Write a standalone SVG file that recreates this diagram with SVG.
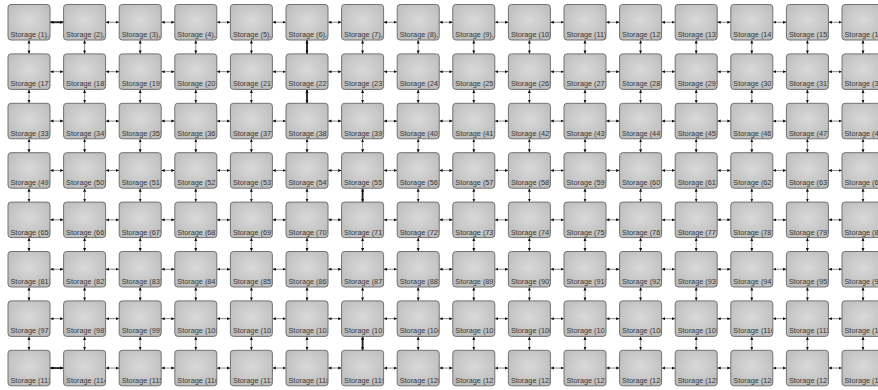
<svg xmlns="http://www.w3.org/2000/svg" width="878" height="390" viewBox="0 0 878 390">
<defs>
<radialGradient id="g" cx="0.5" cy="0.45" r="0.65">
<stop offset="0" stop-color="#d9d9d9"/>
<stop offset="1" stop-color="#bcbcbc"/>
</radialGradient>
<clipPath id="c"><rect x="0" y="0" width="41.5" height="35.5"/></clipPath>
<marker id="a" viewBox="0 0 4 4" refX="4" refY="2" markerWidth="3.5" markerHeight="3.5" markerUnits="userSpaceOnUse" orient="auto-start-reverse">
<path d="M0,0.3 L4,2 L0,3.7 z" fill="#111"/>
</marker>
</defs>
<style>
.box{fill:url(#g);stroke:#727272;stroke-width:1}
.lbl{font-family:"Liberation Sans",Arial,sans-serif;font-size:7.3px;fill:#383838;clip-path:url(#c)}
.c line{stroke:#8a8a8a;stroke-width:1;marker-start:url(#a);marker-end:url(#a)}
.c line.t{stroke:#1a1a1a;stroke-width:1.8}
</style>
<rect width="878" height="390" fill="#ffffff"/>
<g id="connectors" class="c">
<g transform="translate(0,22.25)"><line x1="50" x2="63.6" class="t"/><line x1="105.6" x2="119.2"/><line x1="161.2" x2="174.8"/><line x1="216.8" x2="230.4"/><line x1="272.4" x2="286"/><line x1="328" x2="341.6"/><line x1="383.6" x2="397.2"/><line x1="439.2" x2="452.8"/><line x1="494.8" x2="508.4"/><line x1="550.4" x2="564"/><line x1="606" x2="619.6"/><line x1="661.6" x2="675.2"/><line x1="717.2" x2="730.8"/><line x1="772.8" x2="786.4"/><line x1="828.4" x2="842"/></g>
<g transform="translate(0,71.65)"><line x1="50" x2="63.6"/><line x1="105.6" x2="119.2"/><line x1="161.2" x2="174.8"/><line x1="216.8" x2="230.4"/><line x1="272.4" x2="286"/><line x1="328" x2="341.6"/><line x1="383.6" x2="397.2"/><line x1="439.2" x2="452.8"/><line x1="494.8" x2="508.4"/><line x1="550.4" x2="564"/><line x1="606" x2="619.6"/><line x1="661.6" x2="675.2"/><line x1="717.2" x2="730.8"/><line x1="772.8" x2="786.4"/><line x1="828.4" x2="842"/></g>
<g transform="translate(0,121.05)"><line x1="50" x2="63.6"/><line x1="105.6" x2="119.2"/><line x1="161.2" x2="174.8"/><line x1="216.8" x2="230.4"/><line x1="272.4" x2="286"/><line x1="328" x2="341.6"/><line x1="383.6" x2="397.2"/><line x1="439.2" x2="452.8"/><line x1="494.8" x2="508.4"/><line x1="550.4" x2="564"/><line x1="606" x2="619.6"/><line x1="661.6" x2="675.2"/><line x1="717.2" x2="730.8"/><line x1="772.8" x2="786.4"/><line x1="828.4" x2="842"/></g>
<g transform="translate(0,170.45)"><line x1="50" x2="63.6"/><line x1="105.6" x2="119.2"/><line x1="161.2" x2="174.8"/><line x1="216.8" x2="230.4"/><line x1="272.4" x2="286"/><line x1="328" x2="341.6"/><line x1="383.6" x2="397.2"/><line x1="439.2" x2="452.8"/><line x1="494.8" x2="508.4"/><line x1="550.4" x2="564"/><line x1="606" x2="619.6"/><line x1="661.6" x2="675.2"/><line x1="717.2" x2="730.8"/><line x1="772.8" x2="786.4"/><line x1="828.4" x2="842"/></g>
<g transform="translate(0,219.85)"><line x1="50" x2="63.6"/><line x1="105.6" x2="119.2"/><line x1="161.2" x2="174.8"/><line x1="216.8" x2="230.4"/><line x1="272.4" x2="286"/><line x1="328" x2="341.6"/><line x1="383.6" x2="397.2"/><line x1="439.2" x2="452.8"/><line x1="494.8" x2="508.4"/><line x1="550.4" x2="564"/><line x1="606" x2="619.6"/><line x1="661.6" x2="675.2"/><line x1="717.2" x2="730.8"/><line x1="772.8" x2="786.4"/><line x1="828.4" x2="842"/></g>
<g transform="translate(0,269.25)"><line x1="50" x2="63.6"/><line x1="105.6" x2="119.2"/><line x1="161.2" x2="174.8"/><line x1="216.8" x2="230.4"/><line x1="272.4" x2="286"/><line x1="328" x2="341.6"/><line x1="383.6" x2="397.2"/><line x1="439.2" x2="452.8"/><line x1="494.8" x2="508.4"/><line x1="550.4" x2="564"/><line x1="606" x2="619.6"/><line x1="661.6" x2="675.2"/><line x1="717.2" x2="730.8"/><line x1="772.8" x2="786.4"/><line x1="828.4" x2="842"/></g>
<g transform="translate(0,318.65)"><line x1="50" x2="63.6"/><line x1="105.6" x2="119.2"/><line x1="161.2" x2="174.8"/><line x1="216.8" x2="230.4"/><line x1="272.4" x2="286"/><line x1="328" x2="341.6"/><line x1="383.6" x2="397.2"/><line x1="439.2" x2="452.8"/><line x1="494.8" x2="508.4"/><line x1="550.4" x2="564"/><line x1="606" x2="619.6"/><line x1="661.6" x2="675.2"/><line x1="717.2" x2="730.8"/><line x1="772.8" x2="786.4"/><line x1="828.4" x2="842"/></g>
<g transform="translate(0,368.05)"><line x1="50" x2="63.6" class="t"/><line x1="105.6" x2="119.2"/><line x1="161.2" x2="174.8"/><line x1="216.8" x2="230.4"/><line x1="272.4" x2="286"/><line x1="328" x2="341.6"/><line x1="383.6" x2="397.2"/><line x1="439.2" x2="452.8"/><line x1="494.8" x2="508.4"/><line x1="550.4" x2="564"/><line x1="606" x2="619.6"/><line x1="661.6" x2="675.2"/><line x1="717.2" x2="730.8"/><line x1="772.8" x2="786.4"/><line x1="828.4" x2="842"/></g>
<g transform="translate(29,0)"><line y1="40" y2="53.9"/><line y1="89.4" y2="103.3"/><line y1="138.8" y2="152.7"/><line y1="188.2" y2="202.1"/><line y1="237.6" y2="251.5"/><line y1="287" y2="300.9"/><line y1="336.4" y2="350.3"/></g>
<g transform="translate(84.6,0)"><line y1="40" y2="53.9"/><line y1="89.4" y2="103.3"/><line y1="138.8" y2="152.7"/><line y1="188.2" y2="202.1"/><line y1="237.6" y2="251.5"/><line y1="287" y2="300.9"/><line y1="336.4" y2="350.3"/></g>
<g transform="translate(140.2,0)"><line y1="40" y2="53.9"/><line y1="89.4" y2="103.3"/><line y1="138.8" y2="152.7"/><line y1="188.2" y2="202.1"/><line y1="237.6" y2="251.5"/><line y1="287" y2="300.9"/><line y1="336.4" y2="350.3"/></g>
<g transform="translate(195.8,0)"><line y1="40" y2="53.9"/><line y1="89.4" y2="103.3"/><line y1="138.8" y2="152.7"/><line y1="188.2" y2="202.1"/><line y1="237.6" y2="251.5"/><line y1="287" y2="300.9"/><line y1="336.4" y2="350.3"/></g>
<g transform="translate(251.4,0)"><line y1="40" y2="53.9"/><line y1="89.4" y2="103.3"/><line y1="138.8" y2="152.7"/><line y1="188.2" y2="202.1"/><line y1="237.6" y2="251.5"/><line y1="287" y2="300.9"/><line y1="336.4" y2="350.3"/></g>
<g transform="translate(307,0)"><line y1="40" y2="53.9" class="t"/><line y1="89.4" y2="103.3" class="t"/><line y1="138.8" y2="152.7"/><line y1="188.2" y2="202.1"/><line y1="237.6" y2="251.5"/><line y1="287" y2="300.9"/><line y1="336.4" y2="350.3"/></g>
<g transform="translate(362.6,0)"><line y1="40" y2="53.9"/><line y1="89.4" y2="103.3"/><line y1="138.8" y2="152.7"/><line y1="188.2" y2="202.1" class="t"/><line y1="237.6" y2="251.5"/><line y1="287" y2="300.9"/><line y1="336.4" y2="350.3" class="t"/></g>
<g transform="translate(418.2,0)"><line y1="40" y2="53.9"/><line y1="89.4" y2="103.3"/><line y1="138.8" y2="152.7"/><line y1="188.2" y2="202.1"/><line y1="237.6" y2="251.5"/><line y1="287" y2="300.9"/><line y1="336.4" y2="350.3"/></g>
<g transform="translate(473.8,0)"><line y1="40" y2="53.9"/><line y1="89.4" y2="103.3"/><line y1="138.8" y2="152.7"/><line y1="188.2" y2="202.1"/><line y1="237.6" y2="251.5"/><line y1="287" y2="300.9"/><line y1="336.4" y2="350.3"/></g>
<g transform="translate(529.4,0)"><line y1="40" y2="53.9"/><line y1="89.4" y2="103.3"/><line y1="138.8" y2="152.7"/><line y1="188.2" y2="202.1"/><line y1="237.6" y2="251.5"/><line y1="287" y2="300.9"/><line y1="336.4" y2="350.3"/></g>
<g transform="translate(585,0)"><line y1="40" y2="53.9"/><line y1="89.4" y2="103.3"/><line y1="138.8" y2="152.7"/><line y1="188.2" y2="202.1"/><line y1="237.6" y2="251.5"/><line y1="287" y2="300.9"/><line y1="336.4" y2="350.3"/></g>
<g transform="translate(640.6,0)"><line y1="40" y2="53.9"/><line y1="89.4" y2="103.3"/><line y1="138.8" y2="152.7"/><line y1="188.2" y2="202.1"/><line y1="237.6" y2="251.5"/><line y1="287" y2="300.9"/><line y1="336.4" y2="350.3"/></g>
<g transform="translate(696.2,0)"><line y1="40" y2="53.9"/><line y1="89.4" y2="103.3"/><line y1="138.8" y2="152.7"/><line y1="188.2" y2="202.1"/><line y1="237.6" y2="251.5"/><line y1="287" y2="300.9"/><line y1="336.4" y2="350.3"/></g>
<g transform="translate(751.8,0)"><line y1="40" y2="53.9"/><line y1="89.4" y2="103.3"/><line y1="138.8" y2="152.7"/><line y1="188.2" y2="202.1"/><line y1="237.6" y2="251.5"/><line y1="287" y2="300.9"/><line y1="336.4" y2="350.3"/></g>
<g transform="translate(807.4,0)"><line y1="40" y2="53.9"/><line y1="89.4" y2="103.3"/><line y1="138.8" y2="152.7"/><line y1="188.2" y2="202.1"/><line y1="237.6" y2="251.5"/><line y1="287" y2="300.9"/><line y1="336.4" y2="350.3"/></g>
<g transform="translate(863,0)"><line y1="40" y2="53.9"/><line y1="89.4" y2="103.3"/><line y1="138.8" y2="152.7"/><line y1="188.2" y2="202.1"/><line y1="237.6" y2="251.5"/><line y1="287" y2="300.9"/><line y1="336.4" y2="350.3"/></g>
</g>
<g id="nodes">
<g id="n1" transform="translate(8,4.5)"><rect class="box" width="42" height="35.5" rx="3"/><text class="lbl" x="2.5" y="32.5">Storage (1),</text></g>
<g id="n2" transform="translate(63.6,4.5)"><rect class="box" width="42" height="35.5" rx="3"/><text class="lbl" x="2.5" y="32.5">Storage (2),</text></g>
<g id="n3" transform="translate(119.2,4.5)"><rect class="box" width="42" height="35.5" rx="3"/><text class="lbl" x="2.5" y="32.5">Storage (3),</text></g>
<g id="n4" transform="translate(174.8,4.5)"><rect class="box" width="42" height="35.5" rx="3"/><text class="lbl" x="2.5" y="32.5">Storage (4),</text></g>
<g id="n5" transform="translate(230.4,4.5)"><rect class="box" width="42" height="35.5" rx="3"/><text class="lbl" x="2.5" y="32.5">Storage (5),</text></g>
<g id="n6" transform="translate(286,4.5)"><rect class="box" width="42" height="35.5" rx="3"/><text class="lbl" x="2.5" y="32.5">Storage (6),</text></g>
<g id="n7" transform="translate(341.6,4.5)"><rect class="box" width="42" height="35.5" rx="3"/><text class="lbl" x="2.5" y="32.5">Storage (7),</text></g>
<g id="n8" transform="translate(397.2,4.5)"><rect class="box" width="42" height="35.5" rx="3"/><text class="lbl" x="2.5" y="32.5">Storage (8),</text></g>
<g id="n9" transform="translate(452.8,4.5)"><rect class="box" width="42" height="35.5" rx="3"/><text class="lbl" x="2.5" y="32.5">Storage (9),</text></g>
<g id="n10" transform="translate(508.4,4.5)"><rect class="box" width="42" height="35.5" rx="3"/><text class="lbl" x="2.5" y="32.5">Storage (10)</text></g>
<g id="n11" transform="translate(564,4.5)"><rect class="box" width="42" height="35.5" rx="3"/><text class="lbl" x="2.5" y="32.5">Storage (11)</text></g>
<g id="n12" transform="translate(619.6,4.5)"><rect class="box" width="42" height="35.5" rx="3"/><text class="lbl" x="2.5" y="32.5">Storage (12)</text></g>
<g id="n13" transform="translate(675.2,4.5)"><rect class="box" width="42" height="35.5" rx="3"/><text class="lbl" x="2.5" y="32.5">Storage (13)</text></g>
<g id="n14" transform="translate(730.8,4.5)"><rect class="box" width="42" height="35.5" rx="3"/><text class="lbl" x="2.5" y="32.5">Storage (14)</text></g>
<g id="n15" transform="translate(786.4,4.5)"><rect class="box" width="42" height="35.5" rx="3"/><text class="lbl" x="2.5" y="32.5">Storage (15)</text></g>
<g id="n16" transform="translate(842,4.5)"><rect class="box" width="42" height="35.5" rx="3"/><text class="lbl" x="2.5" y="32.5">Storage (16)</text></g>
<g id="n17" transform="translate(8,53.9)"><rect class="box" width="42" height="35.5" rx="3"/><text class="lbl" x="2.5" y="32.5">Storage (17)</text></g>
<g id="n18" transform="translate(63.6,53.9)"><rect class="box" width="42" height="35.5" rx="3"/><text class="lbl" x="2.5" y="32.5">Storage (18)</text></g>
<g id="n19" transform="translate(119.2,53.9)"><rect class="box" width="42" height="35.5" rx="3"/><text class="lbl" x="2.5" y="32.5">Storage (19)</text></g>
<g id="n20" transform="translate(174.8,53.9)"><rect class="box" width="42" height="35.5" rx="3"/><text class="lbl" x="2.5" y="32.5">Storage (20)</text></g>
<g id="n21" transform="translate(230.4,53.9)"><rect class="box" width="42" height="35.5" rx="3"/><text class="lbl" x="2.5" y="32.5">Storage (21)</text></g>
<g id="n22" transform="translate(286,53.9)"><rect class="box" width="42" height="35.5" rx="3"/><text class="lbl" x="2.5" y="32.5">Storage (22)</text></g>
<g id="n23" transform="translate(341.6,53.9)"><rect class="box" width="42" height="35.5" rx="3"/><text class="lbl" x="2.5" y="32.5">Storage (23)</text></g>
<g id="n24" transform="translate(397.2,53.9)"><rect class="box" width="42" height="35.5" rx="3"/><text class="lbl" x="2.5" y="32.5">Storage (24)</text></g>
<g id="n25" transform="translate(452.8,53.9)"><rect class="box" width="42" height="35.5" rx="3"/><text class="lbl" x="2.5" y="32.5">Storage (25)</text></g>
<g id="n26" transform="translate(508.4,53.9)"><rect class="box" width="42" height="35.5" rx="3"/><text class="lbl" x="2.5" y="32.5">Storage (26)</text></g>
<g id="n27" transform="translate(564,53.9)"><rect class="box" width="42" height="35.5" rx="3"/><text class="lbl" x="2.5" y="32.5">Storage (27)</text></g>
<g id="n28" transform="translate(619.6,53.9)"><rect class="box" width="42" height="35.5" rx="3"/><text class="lbl" x="2.5" y="32.5">Storage (28)</text></g>
<g id="n29" transform="translate(675.2,53.9)"><rect class="box" width="42" height="35.5" rx="3"/><text class="lbl" x="2.5" y="32.5">Storage (29)</text></g>
<g id="n30" transform="translate(730.8,53.9)"><rect class="box" width="42" height="35.5" rx="3"/><text class="lbl" x="2.5" y="32.5">Storage (30)</text></g>
<g id="n31" transform="translate(786.4,53.9)"><rect class="box" width="42" height="35.5" rx="3"/><text class="lbl" x="2.5" y="32.5">Storage (31)</text></g>
<g id="n32" transform="translate(842,53.9)"><rect class="box" width="42" height="35.5" rx="3"/><text class="lbl" x="2.5" y="32.5">Storage (32)</text></g>
<g id="n33" transform="translate(8,103.3)"><rect class="box" width="42" height="35.5" rx="3"/><text class="lbl" x="2.5" y="32.5">Storage (33)</text></g>
<g id="n34" transform="translate(63.6,103.3)"><rect class="box" width="42" height="35.5" rx="3"/><text class="lbl" x="2.5" y="32.5">Storage (34)</text></g>
<g id="n35" transform="translate(119.2,103.3)"><rect class="box" width="42" height="35.5" rx="3"/><text class="lbl" x="2.5" y="32.5">Storage (35)</text></g>
<g id="n36" transform="translate(174.8,103.3)"><rect class="box" width="42" height="35.5" rx="3"/><text class="lbl" x="2.5" y="32.5">Storage (36)</text></g>
<g id="n37" transform="translate(230.4,103.3)"><rect class="box" width="42" height="35.5" rx="3"/><text class="lbl" x="2.5" y="32.5">Storage (37)</text></g>
<g id="n38" transform="translate(286,103.3)"><rect class="box" width="42" height="35.5" rx="3"/><text class="lbl" x="2.5" y="32.5">Storage (38)</text></g>
<g id="n39" transform="translate(341.6,103.3)"><rect class="box" width="42" height="35.5" rx="3"/><text class="lbl" x="2.5" y="32.5">Storage (39)</text></g>
<g id="n40" transform="translate(397.2,103.3)"><rect class="box" width="42" height="35.5" rx="3"/><text class="lbl" x="2.5" y="32.5">Storage (40)</text></g>
<g id="n41" transform="translate(452.8,103.3)"><rect class="box" width="42" height="35.5" rx="3"/><text class="lbl" x="2.5" y="32.5">Storage (41)</text></g>
<g id="n42" transform="translate(508.4,103.3)"><rect class="box" width="42" height="35.5" rx="3"/><text class="lbl" x="2.5" y="32.5">Storage (42)</text></g>
<g id="n43" transform="translate(564,103.3)"><rect class="box" width="42" height="35.5" rx="3"/><text class="lbl" x="2.5" y="32.5">Storage (43)</text></g>
<g id="n44" transform="translate(619.6,103.3)"><rect class="box" width="42" height="35.5" rx="3"/><text class="lbl" x="2.5" y="32.5">Storage (44)</text></g>
<g id="n45" transform="translate(675.2,103.3)"><rect class="box" width="42" height="35.5" rx="3"/><text class="lbl" x="2.5" y="32.5">Storage (45)</text></g>
<g id="n46" transform="translate(730.8,103.3)"><rect class="box" width="42" height="35.5" rx="3"/><text class="lbl" x="2.5" y="32.5">Storage (46)</text></g>
<g id="n47" transform="translate(786.4,103.3)"><rect class="box" width="42" height="35.5" rx="3"/><text class="lbl" x="2.5" y="32.5">Storage (47)</text></g>
<g id="n48" transform="translate(842,103.3)"><rect class="box" width="42" height="35.5" rx="3"/><text class="lbl" x="2.5" y="32.5">Storage (48)</text></g>
<g id="n49" transform="translate(8,152.7)"><rect class="box" width="42" height="35.5" rx="3"/><text class="lbl" x="2.5" y="32.5">Storage (49)</text></g>
<g id="n50" transform="translate(63.6,152.7)"><rect class="box" width="42" height="35.5" rx="3"/><text class="lbl" x="2.5" y="32.5">Storage (50)</text></g>
<g id="n51" transform="translate(119.2,152.7)"><rect class="box" width="42" height="35.5" rx="3"/><text class="lbl" x="2.5" y="32.5">Storage (51)</text></g>
<g id="n52" transform="translate(174.8,152.7)"><rect class="box" width="42" height="35.5" rx="3"/><text class="lbl" x="2.5" y="32.5">Storage (52)</text></g>
<g id="n53" transform="translate(230.4,152.7)"><rect class="box" width="42" height="35.5" rx="3"/><text class="lbl" x="2.5" y="32.5">Storage (53)</text></g>
<g id="n54" transform="translate(286,152.7)"><rect class="box" width="42" height="35.5" rx="3"/><text class="lbl" x="2.5" y="32.5">Storage (54)</text></g>
<g id="n55" transform="translate(341.6,152.7)"><rect class="box" width="42" height="35.5" rx="3"/><text class="lbl" x="2.5" y="32.5">Storage (55)</text></g>
<g id="n56" transform="translate(397.2,152.7)"><rect class="box" width="42" height="35.5" rx="3"/><text class="lbl" x="2.5" y="32.5">Storage (56)</text></g>
<g id="n57" transform="translate(452.8,152.7)"><rect class="box" width="42" height="35.5" rx="3"/><text class="lbl" x="2.5" y="32.5">Storage (57)</text></g>
<g id="n58" transform="translate(508.4,152.7)"><rect class="box" width="42" height="35.5" rx="3"/><text class="lbl" x="2.5" y="32.5">Storage (58)</text></g>
<g id="n59" transform="translate(564,152.7)"><rect class="box" width="42" height="35.5" rx="3"/><text class="lbl" x="2.5" y="32.5">Storage (59)</text></g>
<g id="n60" transform="translate(619.6,152.7)"><rect class="box" width="42" height="35.5" rx="3"/><text class="lbl" x="2.5" y="32.5">Storage (60)</text></g>
<g id="n61" transform="translate(675.2,152.7)"><rect class="box" width="42" height="35.5" rx="3"/><text class="lbl" x="2.5" y="32.5">Storage (61)</text></g>
<g id="n62" transform="translate(730.8,152.7)"><rect class="box" width="42" height="35.5" rx="3"/><text class="lbl" x="2.5" y="32.5">Storage (62)</text></g>
<g id="n63" transform="translate(786.4,152.7)"><rect class="box" width="42" height="35.5" rx="3"/><text class="lbl" x="2.5" y="32.5">Storage (63)</text></g>
<g id="n64" transform="translate(842,152.7)"><rect class="box" width="42" height="35.5" rx="3"/><text class="lbl" x="2.5" y="32.5">Storage (64)</text></g>
<g id="n65" transform="translate(8,202.1)"><rect class="box" width="42" height="35.5" rx="3"/><text class="lbl" x="2.5" y="32.5">Storage (65)</text></g>
<g id="n66" transform="translate(63.6,202.1)"><rect class="box" width="42" height="35.5" rx="3"/><text class="lbl" x="2.5" y="32.5">Storage (66)</text></g>
<g id="n67" transform="translate(119.2,202.1)"><rect class="box" width="42" height="35.5" rx="3"/><text class="lbl" x="2.5" y="32.5">Storage (67)</text></g>
<g id="n68" transform="translate(174.8,202.1)"><rect class="box" width="42" height="35.5" rx="3"/><text class="lbl" x="2.5" y="32.5">Storage (68)</text></g>
<g id="n69" transform="translate(230.4,202.1)"><rect class="box" width="42" height="35.5" rx="3"/><text class="lbl" x="2.5" y="32.5">Storage (69)</text></g>
<g id="n70" transform="translate(286,202.1)"><rect class="box" width="42" height="35.5" rx="3"/><text class="lbl" x="2.5" y="32.5">Storage (70)</text></g>
<g id="n71" transform="translate(341.6,202.1)"><rect class="box" width="42" height="35.5" rx="3"/><text class="lbl" x="2.5" y="32.5">Storage (71)</text></g>
<g id="n72" transform="translate(397.2,202.1)"><rect class="box" width="42" height="35.5" rx="3"/><text class="lbl" x="2.5" y="32.5">Storage (72)</text></g>
<g id="n73" transform="translate(452.8,202.1)"><rect class="box" width="42" height="35.5" rx="3"/><text class="lbl" x="2.5" y="32.5">Storage (73)</text></g>
<g id="n74" transform="translate(508.4,202.1)"><rect class="box" width="42" height="35.5" rx="3"/><text class="lbl" x="2.5" y="32.5">Storage (74)</text></g>
<g id="n75" transform="translate(564,202.1)"><rect class="box" width="42" height="35.5" rx="3"/><text class="lbl" x="2.5" y="32.5">Storage (75)</text></g>
<g id="n76" transform="translate(619.6,202.1)"><rect class="box" width="42" height="35.5" rx="3"/><text class="lbl" x="2.5" y="32.5">Storage (76)</text></g>
<g id="n77" transform="translate(675.2,202.1)"><rect class="box" width="42" height="35.5" rx="3"/><text class="lbl" x="2.5" y="32.5">Storage (77)</text></g>
<g id="n78" transform="translate(730.8,202.1)"><rect class="box" width="42" height="35.5" rx="3"/><text class="lbl" x="2.5" y="32.5">Storage (78)</text></g>
<g id="n79" transform="translate(786.4,202.1)"><rect class="box" width="42" height="35.5" rx="3"/><text class="lbl" x="2.5" y="32.5">Storage (79)</text></g>
<g id="n80" transform="translate(842,202.1)"><rect class="box" width="42" height="35.5" rx="3"/><text class="lbl" x="2.5" y="32.5">Storage (80)</text></g>
<g id="n81" transform="translate(8,251.5)"><rect class="box" width="42" height="35.5" rx="3"/><text class="lbl" x="2.5" y="32.5">Storage (81)</text></g>
<g id="n82" transform="translate(63.6,251.5)"><rect class="box" width="42" height="35.5" rx="3"/><text class="lbl" x="2.5" y="32.5">Storage (82)</text></g>
<g id="n83" transform="translate(119.2,251.5)"><rect class="box" width="42" height="35.5" rx="3"/><text class="lbl" x="2.5" y="32.5">Storage (83)</text></g>
<g id="n84" transform="translate(174.8,251.5)"><rect class="box" width="42" height="35.5" rx="3"/><text class="lbl" x="2.5" y="32.5">Storage (84)</text></g>
<g id="n85" transform="translate(230.4,251.5)"><rect class="box" width="42" height="35.5" rx="3"/><text class="lbl" x="2.5" y="32.5">Storage (85)</text></g>
<g id="n86" transform="translate(286,251.5)"><rect class="box" width="42" height="35.5" rx="3"/><text class="lbl" x="2.5" y="32.5">Storage (86)</text></g>
<g id="n87" transform="translate(341.6,251.5)"><rect class="box" width="42" height="35.5" rx="3"/><text class="lbl" x="2.5" y="32.5">Storage (87)</text></g>
<g id="n88" transform="translate(397.2,251.5)"><rect class="box" width="42" height="35.5" rx="3"/><text class="lbl" x="2.5" y="32.5">Storage (88)</text></g>
<g id="n89" transform="translate(452.8,251.5)"><rect class="box" width="42" height="35.5" rx="3"/><text class="lbl" x="2.5" y="32.5">Storage (89)</text></g>
<g id="n90" transform="translate(508.4,251.5)"><rect class="box" width="42" height="35.5" rx="3"/><text class="lbl" x="2.5" y="32.5">Storage (90)</text></g>
<g id="n91" transform="translate(564,251.5)"><rect class="box" width="42" height="35.5" rx="3"/><text class="lbl" x="2.5" y="32.5">Storage (91)</text></g>
<g id="n92" transform="translate(619.6,251.5)"><rect class="box" width="42" height="35.5" rx="3"/><text class="lbl" x="2.5" y="32.5">Storage (92)</text></g>
<g id="n93" transform="translate(675.2,251.5)"><rect class="box" width="42" height="35.5" rx="3"/><text class="lbl" x="2.5" y="32.5">Storage (93)</text></g>
<g id="n94" transform="translate(730.8,251.5)"><rect class="box" width="42" height="35.5" rx="3"/><text class="lbl" x="2.5" y="32.5">Storage (94)</text></g>
<g id="n95" transform="translate(786.4,251.5)"><rect class="box" width="42" height="35.5" rx="3"/><text class="lbl" x="2.5" y="32.5">Storage (95)</text></g>
<g id="n96" transform="translate(842,251.5)"><rect class="box" width="42" height="35.5" rx="3"/><text class="lbl" x="2.5" y="32.5">Storage (96)</text></g>
<g id="n97" transform="translate(8,300.9)"><rect class="box" width="42" height="35.5" rx="3"/><text class="lbl" x="2.5" y="32.5">Storage (97)</text></g>
<g id="n98" transform="translate(63.6,300.9)"><rect class="box" width="42" height="35.5" rx="3"/><text class="lbl" x="2.5" y="32.5">Storage (98)</text></g>
<g id="n99" transform="translate(119.2,300.9)"><rect class="box" width="42" height="35.5" rx="3"/><text class="lbl" x="2.5" y="32.5">Storage (99)</text></g>
<g id="n100" transform="translate(174.8,300.9)"><rect class="box" width="42" height="35.5" rx="3"/><text class="lbl" x="2.5" y="32.5">Storage (100)</text></g>
<g id="n101" transform="translate(230.4,300.9)"><rect class="box" width="42" height="35.5" rx="3"/><text class="lbl" x="2.5" y="32.5">Storage (101)</text></g>
<g id="n102" transform="translate(286,300.9)"><rect class="box" width="42" height="35.5" rx="3"/><text class="lbl" x="2.5" y="32.5">Storage (102)</text></g>
<g id="n103" transform="translate(341.6,300.9)"><rect class="box" width="42" height="35.5" rx="3"/><text class="lbl" x="2.5" y="32.5">Storage (103)</text></g>
<g id="n104" transform="translate(397.2,300.9)"><rect class="box" width="42" height="35.5" rx="3"/><text class="lbl" x="2.5" y="32.5">Storage (104)</text></g>
<g id="n105" transform="translate(452.8,300.9)"><rect class="box" width="42" height="35.5" rx="3"/><text class="lbl" x="2.5" y="32.5">Storage (105)</text></g>
<g id="n106" transform="translate(508.4,300.9)"><rect class="box" width="42" height="35.5" rx="3"/><text class="lbl" x="2.5" y="32.5">Storage (106)</text></g>
<g id="n107" transform="translate(564,300.9)"><rect class="box" width="42" height="35.5" rx="3"/><text class="lbl" x="2.5" y="32.5">Storage (107)</text></g>
<g id="n108" transform="translate(619.6,300.9)"><rect class="box" width="42" height="35.5" rx="3"/><text class="lbl" x="2.5" y="32.5">Storage (108)</text></g>
<g id="n109" transform="translate(675.2,300.9)"><rect class="box" width="42" height="35.5" rx="3"/><text class="lbl" x="2.5" y="32.5">Storage (109)</text></g>
<g id="n110" transform="translate(730.8,300.9)"><rect class="box" width="42" height="35.5" rx="3"/><text class="lbl" x="2.5" y="32.5">Storage (110)</text></g>
<g id="n111" transform="translate(786.4,300.9)"><rect class="box" width="42" height="35.5" rx="3"/><text class="lbl" x="2.5" y="32.5">Storage (111)</text></g>
<g id="n112" transform="translate(842,300.9)"><rect class="box" width="42" height="35.5" rx="3"/><text class="lbl" x="2.5" y="32.5">Storage (112)</text></g>
<g id="n113" transform="translate(8,350.3)"><rect class="box" width="42" height="35.5" rx="3"/><text class="lbl" x="2.5" y="32.5">Storage (113)</text></g>
<g id="n114" transform="translate(63.6,350.3)"><rect class="box" width="42" height="35.5" rx="3"/><text class="lbl" x="2.5" y="32.5">Storage (114)</text></g>
<g id="n115" transform="translate(119.2,350.3)"><rect class="box" width="42" height="35.5" rx="3"/><text class="lbl" x="2.5" y="32.5">Storage (115)</text></g>
<g id="n116" transform="translate(174.8,350.3)"><rect class="box" width="42" height="35.5" rx="3"/><text class="lbl" x="2.5" y="32.5">Storage (116)</text></g>
<g id="n117" transform="translate(230.4,350.3)"><rect class="box" width="42" height="35.5" rx="3"/><text class="lbl" x="2.5" y="32.5">Storage (117)</text></g>
<g id="n118" transform="translate(286,350.3)"><rect class="box" width="42" height="35.5" rx="3"/><text class="lbl" x="2.5" y="32.5">Storage (118)</text></g>
<g id="n119" transform="translate(341.6,350.3)"><rect class="box" width="42" height="35.5" rx="3"/><text class="lbl" x="2.5" y="32.5">Storage (119)</text></g>
<g id="n120" transform="translate(397.2,350.3)"><rect class="box" width="42" height="35.5" rx="3"/><text class="lbl" x="2.5" y="32.5">Storage (120)</text></g>
<g id="n121" transform="translate(452.8,350.3)"><rect class="box" width="42" height="35.5" rx="3"/><text class="lbl" x="2.5" y="32.5">Storage (121)</text></g>
<g id="n122" transform="translate(508.4,350.3)"><rect class="box" width="42" height="35.5" rx="3"/><text class="lbl" x="2.5" y="32.5">Storage (122)</text></g>
<g id="n123" transform="translate(564,350.3)"><rect class="box" width="42" height="35.5" rx="3"/><text class="lbl" x="2.5" y="32.5">Storage (123)</text></g>
<g id="n124" transform="translate(619.6,350.3)"><rect class="box" width="42" height="35.5" rx="3"/><text class="lbl" x="2.5" y="32.5">Storage (124)</text></g>
<g id="n125" transform="translate(675.2,350.3)"><rect class="box" width="42" height="35.5" rx="3"/><text class="lbl" x="2.5" y="32.5">Storage (125)</text></g>
<g id="n126" transform="translate(730.8,350.3)"><rect class="box" width="42" height="35.5" rx="3"/><text class="lbl" x="2.5" y="32.5">Storage (126)</text></g>
<g id="n127" transform="translate(786.4,350.3)"><rect class="box" width="42" height="35.5" rx="3"/><text class="lbl" x="2.5" y="32.5">Storage (127)</text></g>
<g id="n128" transform="translate(842,350.3)"><rect class="box" width="42" height="35.5" rx="3"/><text class="lbl" x="2.5" y="32.5">Storage (128)</text></g>
</g>
</svg>
